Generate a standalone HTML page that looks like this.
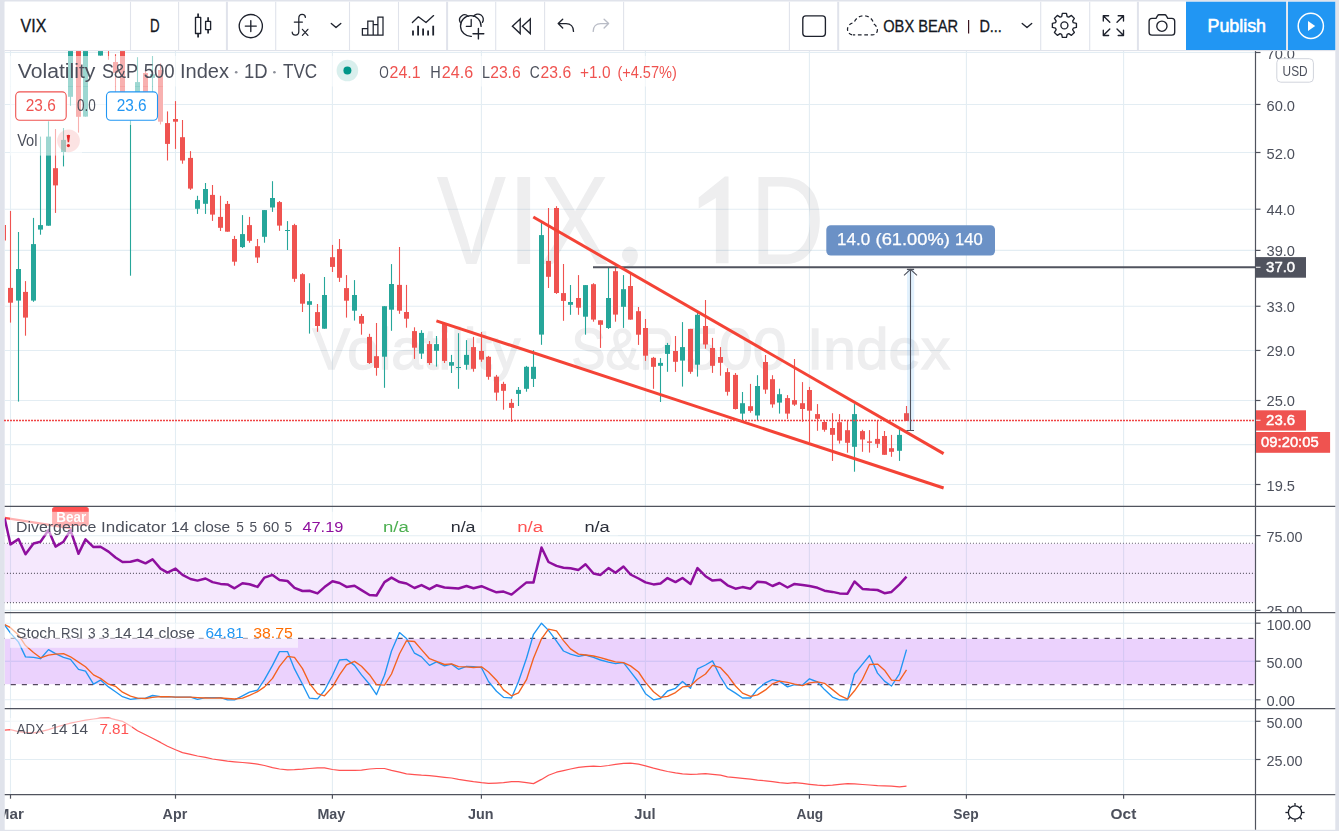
<!DOCTYPE html><html><head><meta charset="utf-8"><title>VIX</title><style>html,body{margin:0;padding:0;background:#fff;}svg{display:block;font-family:"Liberation Sans", sans-serif;}</style></head><body>
<svg width="1339" height="831" viewBox="0 0 1339 831">
<defs>
<clipPath id="cpMain"><rect x="4.7" y="51" width="1250.8" height="455.5"/></clipPath>
<clipPath id="cpMainAx"><rect x="1256" y="51" width="79.3" height="455.5"/></clipPath>
<clipPath id="cpRsi"><rect x="4.7" y="507" width="1250.8" height="105.5"/></clipPath>
<clipPath id="cpRsiAx"><rect x="1256" y="507" width="79.3" height="105.3"/></clipPath>
<clipPath id="cpSto"><rect x="4.7" y="613" width="1250.8" height="95.4"/></clipPath>
<clipPath id="cpAdx"><rect x="4.7" y="709" width="1250.8" height="85.5"/></clipPath>
<clipPath id="cpTime"><rect x="4.7" y="795" width="1250.8" height="35"/></clipPath>
<filter id="gray" x="0" y="0" width="1339" height="831" filterUnits="userSpaceOnUse" color-interpolation-filters="sRGB"><feOffset dx="0" dy="0"/></filter>
</defs>
<rect x="0" y="0" width="1339" height="831" fill="#e0e3eb"/>
<rect x="4.7" y="1.7" width="1330.6" height="828.1" fill="#ffffff"/>
<g filter="url(#gray)">
<g stroke="#e3edf3" stroke-width="1.1" fill="none">
<path d="M10.5 51V794.5"/>
<path d="M175.5 51V794.5"/>
<path d="M332.4 51V794.5"/>
<path d="M481.4 51V794.5"/>
<path d="M645.4 51V794.5"/>
<path d="M809.4 51V794.5"/>
<path d="M966.4 51V794.5"/>
<path d="M1123.6 51V794.5"/>
<path d="M4.7 52.5H1255.5"/>
<path d="M4.7 104.45H1255.5"/>
<path d="M4.7 152.5H1255.5"/>
<path d="M4.7 209.2H1255.5"/>
<path d="M4.7 250.4H1255.5"/>
<path d="M4.7 306.25H1255.5"/>
<path d="M4.7 350.45H1255.5"/>
<path d="M4.7 400.5H1255.5"/>
<path d="M4.7 444.6H1255.5"/>
<path d="M4.7 484.5H1255.5"/>
<path d="M4.7 535.6H1255.5"/>
<path d="M4.7 610.4H1255.5"/>
<path d="M4.7 623.2H1255.5"/>
<path d="M4.7 661.2H1255.5"/>
<path d="M4.7 699.8H1255.5"/>
<path d="M4.7 721.3H1255.5"/>
<path d="M4.7 759.5H1255.5"/>
</g>
<g clip-path="url(#cpMain)"><g opacity="0.097" fill="#50535e">
<text x="436.6" y="263.6" font-size="126" fill="#50535e" font-weight="normal" text-anchor="start" textLength="69.8" lengthAdjust="spacingAndGlyphs">V</text>
<text x="504.8" y="263.6" font-size="126" fill="#50535e" font-weight="normal" text-anchor="start" textLength="38.0" lengthAdjust="spacingAndGlyphs">I</text>
<text x="539.7" y="263.6" font-size="126" fill="#50535e" font-weight="normal" text-anchor="start" textLength="70.0" lengthAdjust="spacingAndGlyphs">X</text>
<text x="749.9" y="263.6" font-size="126" fill="#50535e" font-weight="normal" text-anchor="start" textLength="74.7" lengthAdjust="spacingAndGlyphs">D</text>
<path d="M629.3 246.4A8.6 8.6 0 0 1 637.9 255C637.9 262 633.5 267.6 625.6 270.2L623.9 267.2C627.6 265.6 629.6 263.8 630 263.5A8.6 8.6 0 0 1 629.3 246.4Z"/>
<path d="M724.9 176.6H728.5V263.3H715.9V197.9L698.7 208.6V197.4Z"/>
<text x="312.6" y="368.6" font-size="57.5" fill="#50535e" font-weight="normal" text-anchor="start" textLength="207.8" lengthAdjust="spacingAndGlyphs" stroke="#50535e" stroke-width="1.3">Volatility</text>
<text x="571.6" y="368.6" font-size="57.5" fill="#50535e" font-weight="normal" text-anchor="start" textLength="101.8" lengthAdjust="spacingAndGlyphs" stroke="#50535e" stroke-width="1.3">S&amp;P</text>
<text x="685.4" y="368.6" font-size="57.5" fill="#50535e" font-weight="normal" text-anchor="start" textLength="101.1" lengthAdjust="spacingAndGlyphs" stroke="#50535e" stroke-width="1.3">500</text>
<text x="807.1" y="368.6" font-size="57.5" fill="#50535e" font-weight="normal" text-anchor="start" textLength="143.3" lengthAdjust="spacingAndGlyphs" stroke="#50535e" stroke-width="1.3">Index</text>
</g></g>
<g clip-path="url(#cpMain)">
<rect x="4.7" y="225" width="1.3" height="15.5" fill="#ef5350"/>
<rect x="9.95" y="211.0" width="1.1" height="111.6" fill="#ef5350"/>
<rect x="8.0" y="287.9" width="5" height="14.8" fill="#ef5350"/>
<rect x="17.95" y="232.0" width="1.1" height="169.6" fill="#26a69a"/>
<rect x="16.0" y="269.0" width="5" height="31.6" fill="#26a69a"/>
<rect x="24.95" y="281.1" width="1.1" height="54.6" fill="#ef5350"/>
<rect x="23.0" y="291.9" width="5" height="25.7" fill="#ef5350"/>
<rect x="32.95" y="217.9" width="1.1" height="83.9" fill="#26a69a"/>
<rect x="31.0" y="244.1" width="5" height="56.5" fill="#26a69a"/>
<rect x="39.95" y="136.6" width="1.1" height="98.1" fill="#26a69a"/>
<rect x="38.0" y="225.1" width="5" height="4.5" fill="#26a69a"/>
<rect x="47.95" y="121.3" width="1.1" height="104.4" fill="#26a69a"/>
<rect x="46.0" y="136.6" width="5" height="89.1" fill="#26a69a"/>
<rect x="54.95" y="129.0" width="1.1" height="83.9" fill="#ef5350"/>
<rect x="53.0" y="168.2" width="5" height="17.2" fill="#ef5350"/>
<rect x="62.95" y="128.0" width="1.1" height="38.4" fill="#26a69a"/>
<rect x="61.0" y="139.9" width="5" height="12.1" fill="#26a69a"/>
<rect x="69.95" y="40.0" width="1.1" height="65.8" fill="#26a69a"/>
<rect x="68.0" y="40.0" width="5" height="56.8" fill="#26a69a"/>
<rect x="77.95" y="40.0" width="1.1" height="92.6" fill="#ef5350"/>
<rect x="76.0" y="40.0" width="5" height="76.8" fill="#ef5350"/>
<rect x="84.95" y="40.0" width="1.1" height="76.6" fill="#26a69a"/>
<rect x="83.0" y="40.0" width="5" height="76.6" fill="#26a69a"/>
<rect x="99.95" y="40.0" width="1.1" height="15.6" fill="#26a69a"/>
<rect x="98.0" y="40.0" width="5" height="15.6" fill="#26a69a"/>
<rect x="107.95" y="40.0" width="1.1" height="19.8" fill="#ef5350"/>
<rect x="106.0" y="40.0" width="5" height="5.0" fill="#ef5350"/>
<rect x="114.95" y="54.2" width="1.1" height="45.8" fill="#ef5350"/>
<rect x="113.0" y="62.0" width="5" height="10.9" fill="#ef5350"/>
<rect x="121.95" y="40.0" width="1.1" height="65.0" fill="#ef5350"/>
<rect x="120.0" y="40.0" width="5" height="56.0" fill="#ef5350"/>
<rect x="129.95" y="93.0" width="1.1" height="182.7" fill="#26a69a"/>
<rect x="128.0" y="95.7" width="5" height="20.8" fill="#26a69a"/>
<rect x="136.95" y="57.2" width="1.1" height="57.8" fill="#26a69a"/>
<rect x="135.0" y="82.1" width="5" height="14.9" fill="#26a69a"/>
<rect x="144.95" y="70.0" width="1.1" height="35.0" fill="#ef5350"/>
<rect x="143.0" y="73.0" width="5" height="26.0" fill="#ef5350"/>
<rect x="151.95" y="56.0" width="1.1" height="39.0" fill="#26a69a"/>
<rect x="150.0" y="74.2" width="5" height="3.7" fill="#26a69a"/>
<rect x="159.95" y="63.5" width="1.1" height="60.9" fill="#ef5350"/>
<rect x="158.0" y="70.0" width="5" height="51.7" fill="#ef5350"/>
<rect x="166.95" y="111.4" width="1.1" height="49.1" fill="#ef5350"/>
<rect x="165.0" y="123.1" width="5" height="20.8" fill="#ef5350"/>
<rect x="174.95" y="101.1" width="1.1" height="47.8" fill="#ef5350"/>
<rect x="173.0" y="119.0" width="5" height="2.7" fill="#ef5350"/>
<rect x="181.95" y="120.0" width="1.1" height="43.7" fill="#ef5350"/>
<rect x="180.0" y="137.2" width="5" height="23.3" fill="#ef5350"/>
<rect x="189.95" y="151.1" width="1.1" height="38.8" fill="#ef5350"/>
<rect x="188.0" y="157.9" width="5" height="30.7" fill="#ef5350"/>
<rect x="196.95" y="195.8" width="1.1" height="18.1" fill="#26a69a"/>
<rect x="195.0" y="200.1" width="5" height="8.7" fill="#26a69a"/>
<rect x="204.95" y="183.0" width="1.1" height="30.9" fill="#26a69a"/>
<rect x="203.0" y="189.0" width="5" height="14.8" fill="#26a69a"/>
<rect x="211.95" y="185.0" width="1.1" height="35.9" fill="#ef5350"/>
<rect x="210.0" y="194.9" width="5" height="19.7" fill="#ef5350"/>
<rect x="219.95" y="195.8" width="1.1" height="35.2" fill="#ef5350"/>
<rect x="218.0" y="216.9" width="5" height="10.9" fill="#ef5350"/>
<rect x="226.95" y="201.0" width="1.1" height="30.7" fill="#ef5350"/>
<rect x="225.0" y="203.9" width="5" height="27.8" fill="#ef5350"/>
<rect x="233.95" y="235.9" width="1.1" height="29.8" fill="#ef5350"/>
<rect x="232.0" y="239.0" width="5" height="22.7" fill="#ef5350"/>
<rect x="241.95" y="215.1" width="1.1" height="32.9" fill="#26a69a"/>
<rect x="240.0" y="234.1" width="5" height="13.0" fill="#26a69a"/>
<rect x="248.95" y="216.9" width="1.1" height="25.8" fill="#ef5350"/>
<rect x="247.0" y="225.1" width="5" height="15.7" fill="#ef5350"/>
<rect x="256.95" y="239.0" width="1.1" height="24.0" fill="#ef5350"/>
<rect x="255.0" y="246.2" width="5" height="11.3" fill="#ef5350"/>
<rect x="263.95" y="210.1" width="1.1" height="32.6" fill="#26a69a"/>
<rect x="262.0" y="210.1" width="5" height="26.7" fill="#26a69a"/>
<rect x="271.95" y="181.2" width="1.1" height="30.7" fill="#26a69a"/>
<rect x="270.0" y="198.0" width="5" height="9.5" fill="#26a69a"/>
<rect x="278.95" y="201.0" width="1.1" height="29.8" fill="#ef5350"/>
<rect x="277.0" y="202.1" width="5" height="23.5" fill="#ef5350"/>
<rect x="286.95" y="221.1" width="1.1" height="28.9" fill="#26a69a"/>
<rect x="285.0" y="230.0" width="5" height="1.0" fill="#26a69a"/>
<rect x="293.95" y="223.8" width="1.1" height="58.1" fill="#ef5350"/>
<rect x="292.0" y="225.1" width="5" height="53.7" fill="#ef5350"/>
<rect x="301.95" y="273.2" width="1.1" height="38.8" fill="#ef5350"/>
<rect x="300.0" y="274.2" width="5" height="29.5" fill="#ef5350"/>
<rect x="308.95" y="283.2" width="1.1" height="50.4" fill="#26a69a"/>
<rect x="307.0" y="301.2" width="5" height="3.6" fill="#26a69a"/>
<rect x="316.95" y="304.0" width="1.1" height="27.8" fill="#ef5350"/>
<rect x="315.0" y="312.1" width="5" height="13.9" fill="#ef5350"/>
<rect x="323.95" y="277.0" width="1.1" height="51.7" fill="#26a69a"/>
<rect x="322.0" y="295.0" width="5" height="33.7" fill="#26a69a"/>
<rect x="331.95" y="244.9" width="1.1" height="27.1" fill="#ef5350"/>
<rect x="330.0" y="257.2" width="5" height="9.7" fill="#ef5350"/>
<rect x="338.95" y="239.0" width="1.1" height="42.9" fill="#ef5350"/>
<rect x="337.0" y="249.1" width="5" height="28.7" fill="#ef5350"/>
<rect x="345.95" y="275.1" width="1.1" height="42.5" fill="#ef5350"/>
<rect x="344.0" y="288.1" width="5" height="12.6" fill="#ef5350"/>
<rect x="353.95" y="280.1" width="1.1" height="40.5" fill="#26a69a"/>
<rect x="352.0" y="295.0" width="5" height="15.7" fill="#26a69a"/>
<rect x="360.95" y="313.9" width="1.1" height="20.8" fill="#ef5350"/>
<rect x="359.0" y="316.0" width="5" height="7.7" fill="#ef5350"/>
<rect x="368.95" y="333.8" width="1.1" height="30.1" fill="#ef5350"/>
<rect x="367.0" y="336.9" width="5" height="26.1" fill="#ef5350"/>
<rect x="375.95" y="323.0" width="1.1" height="52.7" fill="#ef5350"/>
<rect x="374.0" y="356.2" width="5" height="11.7" fill="#ef5350"/>
<rect x="383.95" y="306.2" width="1.1" height="81.6" fill="#26a69a"/>
<rect x="382.0" y="306.2" width="5" height="50.5" fill="#26a69a"/>
<rect x="390.95" y="264.1" width="1.1" height="66.7" fill="#26a69a"/>
<rect x="389.0" y="284.0" width="5" height="25.7" fill="#26a69a"/>
<rect x="398.95" y="247.0" width="1.1" height="66.8" fill="#ef5350"/>
<rect x="397.0" y="284.9" width="5" height="25.8" fill="#ef5350"/>
<rect x="405.95" y="284.9" width="1.1" height="42.8" fill="#ef5350"/>
<rect x="404.0" y="312.0" width="5" height="6.7" fill="#ef5350"/>
<rect x="413.95" y="327.3" width="1.1" height="31.6" fill="#ef5350"/>
<rect x="412.0" y="331.1" width="5" height="16.6" fill="#ef5350"/>
<rect x="420.95" y="330.2" width="1.1" height="28.7" fill="#26a69a"/>
<rect x="419.0" y="332.9" width="5" height="20.7" fill="#26a69a"/>
<rect x="428.95" y="341.0" width="1.1" height="23.8" fill="#ef5350"/>
<rect x="427.0" y="344.1" width="5" height="18.9" fill="#ef5350"/>
<rect x="435.95" y="336.0" width="1.1" height="30.6" fill="#26a69a"/>
<rect x="434.0" y="344.1" width="5" height="6.7" fill="#26a69a"/>
<rect x="443.95" y="323.3" width="1.1" height="39.7" fill="#ef5350"/>
<rect x="442.0" y="323.3" width="5" height="37.6" fill="#ef5350"/>
<rect x="450.95" y="354.9" width="1.1" height="18.1" fill="#26a69a"/>
<rect x="449.0" y="362.1" width="5" height="3.6" fill="#26a69a"/>
<rect x="457.95" y="333.2" width="1.1" height="55.6" fill="#26a69a"/>
<rect x="456.0" y="367.0" width="5" height="1.0" fill="#26a69a"/>
<rect x="465.95" y="340.1" width="1.1" height="29.6" fill="#26a69a"/>
<rect x="464.0" y="354.9" width="5" height="9.9" fill="#26a69a"/>
<rect x="472.95" y="336.9" width="1.1" height="34.8" fill="#ef5350"/>
<rect x="471.0" y="347.1" width="5" height="21.7" fill="#ef5350"/>
<rect x="480.95" y="332.0" width="1.1" height="29.8" fill="#ef5350"/>
<rect x="479.0" y="351.0" width="5" height="8.6" fill="#ef5350"/>
<rect x="487.95" y="355.9" width="1.1" height="23.8" fill="#ef5350"/>
<rect x="486.0" y="356.8" width="5" height="20.0" fill="#ef5350"/>
<rect x="495.95" y="374.9" width="1.1" height="25.8" fill="#ef5350"/>
<rect x="494.0" y="376.7" width="5" height="15.9" fill="#ef5350"/>
<rect x="502.95" y="381.8" width="1.1" height="27.9" fill="#ef5350"/>
<rect x="501.0" y="383.9" width="5" height="6.9" fill="#ef5350"/>
<rect x="510.95" y="398.9" width="1.1" height="22.9" fill="#ef5350"/>
<rect x="509.0" y="402.9" width="5" height="5.0" fill="#ef5350"/>
<rect x="517.95" y="387.0" width="1.1" height="19.0" fill="#26a69a"/>
<rect x="516.0" y="389.9" width="5" height="4.0" fill="#26a69a"/>
<rect x="525.95" y="365.9" width="1.1" height="25.8" fill="#26a69a"/>
<rect x="524.0" y="366.8" width="5" height="22.0" fill="#26a69a"/>
<rect x="532.95" y="350.2" width="1.1" height="36.8" fill="#26a69a"/>
<rect x="531.0" y="366.8" width="5" height="12.1" fill="#26a69a"/>
<rect x="540.95" y="223.0" width="1.1" height="121.8" fill="#26a69a"/>
<rect x="539.0" y="235.1" width="5" height="99.5" fill="#26a69a"/>
<rect x="547.95" y="208.0" width="1.1" height="80.0" fill="#ef5350"/>
<rect x="546.0" y="260.9" width="5" height="15.9" fill="#ef5350"/>
<rect x="555.95" y="206.2" width="1.1" height="87.7" fill="#ef5350"/>
<rect x="554.0" y="208.0" width="5" height="85.0" fill="#ef5350"/>
<rect x="562.95" y="264.0" width="1.1" height="56.8" fill="#ef5350"/>
<rect x="561.0" y="293.1" width="5" height="7.8" fill="#ef5350"/>
<rect x="569.95" y="285.0" width="1.1" height="29.8" fill="#26a69a"/>
<rect x="568.0" y="302.0" width="5" height="2.8" fill="#26a69a"/>
<rect x="577.95" y="275.1" width="1.1" height="39.7" fill="#ef5350"/>
<rect x="576.0" y="298.0" width="5" height="9.7" fill="#ef5350"/>
<rect x="584.95" y="285.1" width="1.1" height="49.6" fill="#26a69a"/>
<rect x="583.0" y="285.1" width="5" height="31.6" fill="#26a69a"/>
<rect x="592.95" y="283.2" width="1.1" height="38.5" fill="#ef5350"/>
<rect x="591.0" y="284.2" width="5" height="35.4" fill="#ef5350"/>
<rect x="599.95" y="320.3" width="1.1" height="27.6" fill="#ef5350"/>
<rect x="598.0" y="320.3" width="5" height="4.5" fill="#ef5350"/>
<rect x="607.95" y="267.0" width="1.1" height="61.9" fill="#26a69a"/>
<rect x="606.0" y="298.0" width="5" height="30.0" fill="#26a69a"/>
<rect x="614.95" y="267.0" width="1.1" height="54.7" fill="#ef5350"/>
<rect x="613.0" y="271.2" width="5" height="43.4" fill="#ef5350"/>
<rect x="622.95" y="275.1" width="1.1" height="52.8" fill="#26a69a"/>
<rect x="621.0" y="289.2" width="5" height="17.6" fill="#26a69a"/>
<rect x="629.95" y="273.0" width="1.1" height="46.7" fill="#ef5350"/>
<rect x="628.0" y="286.0" width="5" height="33.6" fill="#ef5350"/>
<rect x="637.95" y="307.0" width="1.1" height="37.9" fill="#ef5350"/>
<rect x="636.0" y="311.2" width="5" height="23.5" fill="#ef5350"/>
<rect x="644.95" y="319.0" width="1.1" height="41.9" fill="#ef5350"/>
<rect x="643.0" y="328.0" width="5" height="27.7" fill="#ef5350"/>
<rect x="652.95" y="356.9" width="1.1" height="31.9" fill="#ef5350"/>
<rect x="651.0" y="357.8" width="5" height="9.0" fill="#ef5350"/>
<rect x="659.95" y="358.1" width="1.1" height="43.9" fill="#26a69a"/>
<rect x="658.0" y="362.9" width="5" height="2.9" fill="#26a69a"/>
<rect x="666.95" y="342.9" width="1.1" height="28.9" fill="#26a69a"/>
<rect x="665.0" y="345.0" width="5" height="8.9" fill="#26a69a"/>
<rect x="674.95" y="336.0" width="1.1" height="35.9" fill="#ef5350"/>
<rect x="673.0" y="351.0" width="5" height="10.8" fill="#ef5350"/>
<rect x="681.95" y="322.1" width="1.1" height="64.5" fill="#26a69a"/>
<rect x="680.0" y="347.1" width="5" height="13.5" fill="#26a69a"/>
<rect x="689.95" y="328.9" width="1.1" height="44.9" fill="#ef5350"/>
<rect x="688.0" y="328.9" width="5" height="42.9" fill="#ef5350"/>
<rect x="696.95" y="313.0" width="1.1" height="63.6" fill="#26a69a"/>
<rect x="695.0" y="314.8" width="5" height="49.9" fill="#26a69a"/>
<rect x="704.95" y="300.0" width="1.1" height="48.7" fill="#ef5350"/>
<rect x="703.0" y="326.0" width="5" height="18.5" fill="#ef5350"/>
<rect x="711.95" y="337.9" width="1.1" height="35.0" fill="#ef5350"/>
<rect x="710.0" y="348.0" width="5" height="17.8" fill="#ef5350"/>
<rect x="719.95" y="347.1" width="1.1" height="28.6" fill="#ef5350"/>
<rect x="718.0" y="357.0" width="5" height="5.8" fill="#ef5350"/>
<rect x="726.95" y="368.2" width="1.1" height="27.4" fill="#ef5350"/>
<rect x="725.0" y="372.1" width="5" height="19.7" fill="#ef5350"/>
<rect x="734.95" y="373.0" width="1.1" height="36.5" fill="#ef5350"/>
<rect x="733.0" y="374.9" width="5" height="34.1" fill="#ef5350"/>
<rect x="741.95" y="392.0" width="1.1" height="28.0" fill="#26a69a"/>
<rect x="740.0" y="403.2" width="5" height="10.4" fill="#26a69a"/>
<rect x="749.95" y="383.9" width="1.1" height="28.8" fill="#ef5350"/>
<rect x="748.0" y="406.2" width="5" height="4.7" fill="#ef5350"/>
<rect x="756.95" y="375.2" width="1.1" height="45.5" fill="#26a69a"/>
<rect x="755.0" y="386.0" width="5" height="29.5" fill="#26a69a"/>
<rect x="764.95" y="355.0" width="1.1" height="38.8" fill="#ef5350"/>
<rect x="763.0" y="362.0" width="5" height="27.6" fill="#ef5350"/>
<rect x="771.95" y="375.2" width="1.1" height="32.5" fill="#ef5350"/>
<rect x="770.0" y="379.2" width="5" height="25.2" fill="#ef5350"/>
<rect x="778.95" y="388.7" width="1.1" height="24.9" fill="#26a69a"/>
<rect x="777.0" y="394.2" width="5" height="8.4" fill="#26a69a"/>
<rect x="786.95" y="395.1" width="1.1" height="23.8" fill="#ef5350"/>
<rect x="785.0" y="398.1" width="5" height="15.5" fill="#ef5350"/>
<rect x="793.95" y="359.0" width="1.1" height="46.9" fill="#ef5350"/>
<rect x="792.0" y="400.1" width="5" height="4.5" fill="#ef5350"/>
<rect x="801.95" y="382.1" width="1.1" height="39.7" fill="#ef5350"/>
<rect x="800.0" y="403.2" width="5" height="5.8" fill="#ef5350"/>
<rect x="808.95" y="386.9" width="1.1" height="55.1" fill="#ef5350"/>
<rect x="807.0" y="390.0" width="5" height="20.7" fill="#ef5350"/>
<rect x="816.95" y="404.1" width="1.1" height="26.7" fill="#ef5350"/>
<rect x="815.0" y="414.1" width="5" height="4.7" fill="#ef5350"/>
<rect x="823.95" y="421.0" width="1.1" height="10.7" fill="#ef5350"/>
<rect x="822.0" y="422.0" width="5" height="7.8" fill="#ef5350"/>
<rect x="831.95" y="413.2" width="1.1" height="47.7" fill="#ef5350"/>
<rect x="830.0" y="428.0" width="5" height="6.8" fill="#ef5350"/>
<rect x="838.95" y="414.1" width="1.1" height="29.5" fill="#ef5350"/>
<rect x="837.0" y="422.2" width="5" height="18.4" fill="#ef5350"/>
<rect x="846.95" y="420.9" width="1.1" height="31.8" fill="#ef5350"/>
<rect x="845.0" y="430.2" width="5" height="12.6" fill="#ef5350"/>
<rect x="853.95" y="404.1" width="1.1" height="67.6" fill="#26a69a"/>
<rect x="852.0" y="414.1" width="5" height="32.7" fill="#26a69a"/>
<rect x="861.95" y="429.8" width="1.1" height="22.0" fill="#ef5350"/>
<rect x="860.0" y="431.1" width="5" height="8.4" fill="#ef5350"/>
<rect x="868.95" y="430.1" width="1.1" height="22.5" fill="#ef5350"/>
<rect x="867.0" y="441.4" width="5" height="1.4" fill="#ef5350"/>
<rect x="876.95" y="420.9" width="1.1" height="27.0" fill="#ef5350"/>
<rect x="875.0" y="438.9" width="5" height="4.9" fill="#ef5350"/>
<rect x="883.95" y="431.0" width="1.1" height="23.8" fill="#ef5350"/>
<rect x="882.0" y="436.0" width="5" height="18.8" fill="#ef5350"/>
<rect x="890.95" y="434.9" width="1.1" height="21.9" fill="#ef5350"/>
<rect x="889.0" y="448.2" width="5" height="3.6" fill="#ef5350"/>
<rect x="898.95" y="429.8" width="1.1" height="31.1" fill="#26a69a"/>
<rect x="897.0" y="434.9" width="5" height="15.9" fill="#26a69a"/>
<rect x="905.95" y="406.0" width="1.1" height="14.9" fill="#ef5350"/>
<rect x="904.0" y="413.2" width="5" height="7.7" fill="#ef5350"/>
</g>
<path d="M4 420.5H1255.5" stroke="#ef4444" stroke-width="1.3" stroke-dasharray="2 1" fill="none"/>
<g clip-path="url(#cpMain)">
<rect x="907" y="269" width="7.2" height="161.5" fill="#2196f3" fill-opacity="0.13"/>
<path d="M593 267.2H1255.5" stroke="#50535e" stroke-width="1.9" fill="none"/>
<path d="M533.3 217L943.6 453.6" stroke="#f44336" stroke-width="3" fill="none"/>
<path d="M436.4 320.8L943.6 488" stroke="#f44336" stroke-width="3" fill="none"/>
<path d="M910.5 430.5V269.6M904 275.3L910.5 269.3L917 275.3M906.5 430.5H914M906.9 269.4H914.1" stroke="#50535e" stroke-width="1.1" fill="none"/>
<rect x="826.3" y="225.2" width="168.7" height="30.4" rx="4.5" fill="#6b91c6"/>
<text x="837.1" y="245.3" font-size="15.7" fill="#ffffff" font-weight="normal" text-anchor="start" textLength="33.1" lengthAdjust="spacingAndGlyphs" stroke="#ffffff" stroke-width="0.25">14.0</text>
<text x="875.6" y="245.3" font-size="15.7" fill="#ffffff" font-weight="normal" text-anchor="start" textLength="74.2" lengthAdjust="spacingAndGlyphs" stroke="#ffffff" stroke-width="0.25">(61.00%)</text>
<text x="955.1" y="245.3" font-size="15.7" fill="#ffffff" font-weight="normal" text-anchor="start" textLength="27.7" lengthAdjust="spacingAndGlyphs" stroke="#ffffff" stroke-width="0.25">140</text>
</g>
<g>
<rect x="10" y="56" width="672" height="30.5" fill="#ffffff" fill-opacity="0.55"/>
<rect x="10" y="86.5" width="154" height="38.5" fill="#ffffff" fill-opacity="0.55"/>
<rect x="10" y="125" width="72" height="30.6" fill="#ffffff" fill-opacity="0.55"/>
<text x="17.8" y="78.2" font-size="20" fill="#4c505c" font-weight="normal" text-anchor="start" textLength="77.6" lengthAdjust="spacingAndGlyphs">Volatility</text>
<text x="102.0" y="78.2" font-size="20" fill="#4c505c" font-weight="normal" text-anchor="start" textLength="36.1" lengthAdjust="spacingAndGlyphs">S&amp;P</text>
<text x="143.7" y="78.2" font-size="20" fill="#4c505c" font-weight="normal" text-anchor="start" textLength="30.9" lengthAdjust="spacingAndGlyphs">500</text>
<text x="179.9" y="78.2" font-size="20" fill="#4c505c" font-weight="normal" text-anchor="start" textLength="49.1" lengthAdjust="spacingAndGlyphs">Index</text>
<text x="243.9" y="78.2" font-size="20" fill="#4c505c" font-weight="normal" text-anchor="start" textLength="23.6" lengthAdjust="spacingAndGlyphs">1D</text>
<text x="283.0" y="78.2" font-size="20" fill="#4c505c" font-weight="normal" text-anchor="start" textLength="34.2" lengthAdjust="spacingAndGlyphs">TVC</text>
<circle cx="236.2" cy="72.3" r="1.3" fill="#8a8d97"/><circle cx="274.4" cy="72.3" r="1.3" fill="#8a8d97"/>
<circle cx="347.4" cy="70.5" r="10.8" fill="#009688" fill-opacity="0.15"/><circle cx="347.4" cy="70.5" r="4" fill="#009688"/>
<text x="379.2" y="78.2" font-size="15.6" fill="#4c505c" font-weight="normal" text-anchor="start" textLength="9.5" lengthAdjust="spacingAndGlyphs">O</text>
<text x="389.6" y="78.2" font-size="15.6" fill="#ef5350" font-weight="normal" text-anchor="start" textLength="31" lengthAdjust="spacingAndGlyphs">24.1</text>
<text x="430.3" y="78.2" font-size="15.6" fill="#4c505c" font-weight="normal" text-anchor="start" textLength="10.5" lengthAdjust="spacingAndGlyphs">H</text>
<text x="441.8" y="78.2" font-size="15.6" fill="#ef5350" font-weight="normal" text-anchor="start" textLength="31.3" lengthAdjust="spacingAndGlyphs">24.6</text>
<text x="482" y="78.2" font-size="15.6" fill="#4c505c" font-weight="normal" text-anchor="start" textLength="8" lengthAdjust="spacingAndGlyphs">L</text>
<text x="490.2" y="78.2" font-size="15.6" fill="#ef5350" font-weight="normal" text-anchor="start" textLength="30.5" lengthAdjust="spacingAndGlyphs">23.6</text>
<text x="529.8" y="78.2" font-size="15.6" fill="#4c505c" font-weight="normal" text-anchor="start" textLength="10" lengthAdjust="spacingAndGlyphs">C</text>
<text x="540.6" y="78.2" font-size="15.6" fill="#ef5350" font-weight="normal" text-anchor="start" textLength="30.6" lengthAdjust="spacingAndGlyphs">23.6</text>
<text x="580" y="78.2" font-size="15.6" fill="#ef5350" font-weight="normal" text-anchor="start" textLength="30.5" lengthAdjust="spacingAndGlyphs">+1.0</text>
<text x="617.4" y="78.2" font-size="15.6" fill="#ef5350" font-weight="normal" text-anchor="start" textLength="59.4" lengthAdjust="spacingAndGlyphs">(+4.57%)</text>
<rect x="15.7" y="91.9" width="50.5" height="28.3" rx="4" fill="#ffffff" stroke="#ef5350" stroke-width="1.1"/>
<text x="25.8" y="110.9" font-size="15.6" fill="#ef5350" font-weight="normal" text-anchor="start" textLength="30" lengthAdjust="spacingAndGlyphs">23.6</text>
<text x="76.9" y="110.9" font-size="15.6" fill="#4c505c" font-weight="normal" text-anchor="start" textLength="18.8" lengthAdjust="spacingAndGlyphs">0.0</text>
<rect x="106.5" y="91.9" width="51" height="28.3" rx="4" fill="#ffffff" stroke="#2196f3" stroke-width="1.1"/>
<text x="116.7" y="110.9" font-size="15.6" fill="#2196f3" font-weight="normal" text-anchor="start" textLength="30" lengthAdjust="spacingAndGlyphs">23.6</text>
<text x="17.2" y="146" font-size="16.3" fill="#4c505c" font-weight="normal" text-anchor="start" textLength="20.3" lengthAdjust="spacingAndGlyphs">Vol</text>
<circle cx="68.5" cy="140.8" r="11.4" fill="#ef5350" fill-opacity="0.16"/>
<path d="M66.7 135.2Q68.4 134.2 70.1 135.2L69.1 142.2H67.7Z" fill="#e52828"/><circle cx="68.4" cy="145.6" r="1.6" fill="#e52828"/>
</g>
<g clip-path="url(#cpRsi)">
<rect x="4.7" y="543.8" width="1250.8" height="58.5" fill="#f5e8fd"/>
<path d="M10.5 543.6V602.8" stroke="#dcd8f2" stroke-width="1.1" fill="none"/>
<path d="M175.5 543.6V602.8" stroke="#dcd8f2" stroke-width="1.1" fill="none"/>
<path d="M332.4 543.6V602.8" stroke="#dcd8f2" stroke-width="1.1" fill="none"/>
<path d="M481.4 543.6V602.8" stroke="#dcd8f2" stroke-width="1.1" fill="none"/>
<path d="M645.4 543.6V602.8" stroke="#dcd8f2" stroke-width="1.1" fill="none"/>
<path d="M809.4 543.6V602.8" stroke="#dcd8f2" stroke-width="1.1" fill="none"/>
<path d="M966.4 543.6V602.8" stroke="#dcd8f2" stroke-width="1.1" fill="none"/>
<path d="M1123.6 543.6V602.8" stroke="#dcd8f2" stroke-width="1.1" fill="none"/>
<path d="M0.9 543.25H1255.5" stroke="#6e6878" stroke-width="1.15" stroke-dasharray="1.1 1.9" fill="none"/>
<path d="M0.9 573.4H1255.5" stroke="#6e6878" stroke-width="1.15" stroke-dasharray="1.1 1.9" fill="none"/>
<path d="M0.9 602.6H1255.5" stroke="#6e6878" stroke-width="1.15" stroke-dasharray="1.1 1.9" fill="none"/>
<rect x="52.1" y="507" width="36.7" height="19" rx="2.5" fill="#ff5252"/>
<text x="71.2" y="522" font-size="14" fill="#ffffff" font-weight="bold" text-anchor="middle" textLength="30" lengthAdjust="spacingAndGlyphs">Bear</text>
<path d="M4.7 517.9L71.7 528.3" stroke="#ff5252" stroke-width="2.2" fill="none"/>
<polyline fill="none" stroke="#8e0f9e" stroke-width="2.5" stroke-linejoin="round" points="4.7,518.4 10.5,544.4 18.5,539.1 25.5,554.3 33.5,543.5 40.5,541.7 48.5,530.1 55.5,546.6 63.5,541.7 70.5,530.1 78.5,553.8 85.5,539.4 93.5,547.1 100.5,546.8 108.5,551.6 115.5,557.5 122.5,562.0 130.5,561.8 137.5,560.0 145.5,563.3 152.5,559.3 160.5,568.6 167.5,572.6 175.5,568.6 182.5,574.9 190.5,579.0 197.5,580.6 205.5,578.5 212.5,582.1 220.5,583.9 227.5,584.4 234.5,588.3 242.5,583.3 249.5,584.2 257.5,586.9 264.5,577.6 272.5,574.9 279.5,579.9 287.5,581.0 294.5,587.8 302.5,591.0 309.5,590.7 317.5,593.4 324.5,587.1 332.5,581.2 339.5,583.0 346.5,586.9 354.5,585.7 361.5,590.1 369.5,595.0 376.5,595.5 384.5,582.1 391.5,577.6 399.5,582.1 406.5,583.5 414.5,588.0 421.5,585.1 429.5,589.2 436.5,585.3 444.5,587.5 451.5,588.0 458.5,588.5 466.5,586.0 473.5,588.3 481.5,586.2 488.5,589.2 496.5,592.3 503.5,591.6 511.5,594.6 518.5,588.9 526.5,582.4 533.5,582.4 541.5,547.5 548.5,562.0 556.5,565.9 563.5,567.7 570.5,568.3 578.5,569.9 585.5,564.2 593.5,573.5 600.5,574.9 608.5,568.1 615.5,572.8 623.5,566.5 630.5,574.5 638.5,578.5 645.5,582.4 653.5,584.4 660.5,583.5 667.5,578.1 675.5,582.1 682.5,578.0 690.5,583.9 697.5,568.1 705.5,576.2 712.5,580.6 720.5,579.7 727.5,585.3 735.5,588.7 742.5,587.1 750.5,588.7 757.5,581.7 765.5,582.4 772.5,586.0 779.5,583.0 787.5,587.5 794.5,583.9 802.5,585.1 809.5,586.0 817.5,587.8 824.5,590.7 832.5,591.9 839.5,593.4 847.5,593.7 854.5,581.5 862.5,588.9 869.5,589.6 877.5,590.0 884.5,593.2 891.5,591.9 899.5,584.4 906.5,576.7"/>
<rect x="10" y="511.8" width="608" height="23.7" fill="#ffffff" fill-opacity="0.55"/>
<text x="16.0" y="531.9" font-size="15.2" fill="#4c505c" font-weight="normal" text-anchor="start" textLength="80.4" lengthAdjust="spacingAndGlyphs">Divergence</text>
<text x="101.0" y="531.9" font-size="15.2" fill="#4c505c" font-weight="normal" text-anchor="start" textLength="65.2" lengthAdjust="spacingAndGlyphs">Indicator</text>
<text x="170.7" y="531.9" font-size="15.2" fill="#4c505c" font-weight="normal" text-anchor="start" textLength="18.3" lengthAdjust="spacingAndGlyphs">14</text>
<text x="194.0" y="531.9" font-size="15.2" fill="#4c505c" font-weight="normal" text-anchor="start" textLength="36.2" lengthAdjust="spacingAndGlyphs">close</text>
<text x="236.2" y="531.9" font-size="15.2" fill="#4c505c" font-weight="normal" text-anchor="start" textLength="7.6" lengthAdjust="spacingAndGlyphs">5</text>
<text x="249.6" y="531.9" font-size="15.2" fill="#4c505c" font-weight="normal" text-anchor="start" textLength="7.6" lengthAdjust="spacingAndGlyphs">5</text>
<text x="262.7" y="531.9" font-size="15.2" fill="#4c505c" font-weight="normal" text-anchor="start" textLength="16.6" lengthAdjust="spacingAndGlyphs">60</text>
<text x="284.6" y="531.9" font-size="15.2" fill="#4c505c" font-weight="normal" text-anchor="start" textLength="7.6" lengthAdjust="spacingAndGlyphs">5</text>
<text x="302.4" y="531.9" font-size="15.2" fill="#8e0f9e" font-weight="normal" text-anchor="start" textLength="41.0" lengthAdjust="spacingAndGlyphs">47.19</text>
<text x="383.0" y="531.9" font-size="15.2" fill="#4caf50" font-weight="normal" text-anchor="start" textLength="25.9" lengthAdjust="spacingAndGlyphs">n/a</text>
<text x="450.7" y="531.9" font-size="15.2" fill="#2a2e39" font-weight="normal" text-anchor="start" textLength="24.9" lengthAdjust="spacingAndGlyphs">n/a</text>
<text x="517.2" y="531.9" font-size="15.2" fill="#ff5252" font-weight="normal" text-anchor="start" textLength="26.0" lengthAdjust="spacingAndGlyphs">n/a</text>
<text x="584.4" y="531.9" font-size="15.2" fill="#2a2e39" font-weight="normal" text-anchor="start" textLength="25.4" lengthAdjust="spacingAndGlyphs">n/a</text>
</g>
<g clip-path="url(#cpSto)">
<rect x="4.7" y="638.8" width="1250.8" height="45.4" fill="#ebd2fd"/>
<path d="M4.7 661.2H1255.5" stroke="#cbc0f3" stroke-width="1.1" fill="none"/>
<path d="M10.5 638.8V684.7" stroke="#d5c8f4" stroke-width="1.1" fill="none"/>
<path d="M175.5 638.8V684.7" stroke="#d5c8f4" stroke-width="1.1" fill="none"/>
<path d="M332.4 638.8V684.7" stroke="#d5c8f4" stroke-width="1.1" fill="none"/>
<path d="M481.4 638.8V684.7" stroke="#d5c8f4" stroke-width="1.1" fill="none"/>
<path d="M645.4 638.8V684.7" stroke="#d5c8f4" stroke-width="1.1" fill="none"/>
<path d="M809.4 638.8V684.7" stroke="#d5c8f4" stroke-width="1.1" fill="none"/>
<path d="M966.4 638.8V684.7" stroke="#d5c8f4" stroke-width="1.1" fill="none"/>
<path d="M1123.6 638.8V684.7" stroke="#d5c8f4" stroke-width="1.1" fill="none"/>
<path d="M-0.3 638.4H1255.5" stroke="#54485f" stroke-width="1.15" stroke-dasharray="5.1 5.95" fill="none"/>
<path d="M-0.3 684.6H1255.5" stroke="#54485f" stroke-width="1.15" stroke-dasharray="5.1 5.95" fill="none"/>
<polyline fill="none" stroke="#2196f3" stroke-width="1.35" stroke-linejoin="round" points="4.7,625.0 10.5,633.1 18.5,642.1 25.5,656.9 33.5,657.3 40.5,658.7 48.5,649.6 55.5,653.7 63.5,657.3 70.5,659.4 78.5,669.3 85.5,671.1 93.5,684.2 100.5,680.1 108.5,686.9 115.5,691.7 122.5,696.7 130.5,699.4 137.5,698.5 145.5,698.2 152.5,695.5 160.5,696.7 167.5,696.7 175.5,697.1 182.5,697.1 190.5,697.1 197.5,699.4 205.5,697.6 212.5,697.6 220.5,697.6 227.5,699.8 234.5,699.8 242.5,695.8 249.5,692.2 257.5,690.1 264.5,679.7 272.5,665.4 279.5,651.6 287.5,651.6 294.5,668.9 302.5,684.2 309.5,698.2 317.5,698.9 324.5,690.5 332.5,675.2 339.5,660.0 346.5,659.4 354.5,665.4 361.5,674.9 369.5,684.2 376.5,694.6 384.5,675.2 391.5,651.0 399.5,632.6 406.5,638.5 414.5,653.2 421.5,656.9 429.5,665.4 436.5,661.8 444.5,665.9 451.5,664.1 458.5,669.3 466.5,666.3 473.5,666.6 481.5,667.7 488.5,681.5 496.5,691.3 503.5,697.3 511.5,698.0 518.5,681.5 526.5,658.2 533.5,634.3 541.5,623.2 548.5,630.4 556.5,641.2 563.5,651.0 570.5,654.2 578.5,656.4 585.5,655.0 593.5,657.3 600.5,660.0 608.5,662.1 615.5,663.6 623.5,662.7 630.5,671.6 638.5,682.0 645.5,693.7 653.5,699.8 660.5,698.5 667.5,691.0 675.5,688.3 682.5,681.5 690.5,688.3 697.5,668.9 705.5,665.0 712.5,660.9 720.5,677.0 727.5,688.1 735.5,693.1 742.5,698.0 750.5,698.0 757.5,689.2 765.5,682.9 772.5,679.7 779.5,681.1 787.5,686.9 794.5,684.7 802.5,685.1 809.5,678.8 817.5,682.0 824.5,689.6 832.5,697.1 839.5,699.8 847.5,699.8 854.5,674.0 862.5,664.1 869.5,655.5 877.5,673.1 884.5,681.1 891.5,686.0 899.5,673.8 906.5,649.6"/>
<polyline fill="none" stroke="#f4621f" stroke-width="1.35" stroke-linejoin="round" points="4.7,624.5 10.5,627.7 18.5,634.9 25.5,645.6 33.5,652.5 40.5,657.8 48.5,655.1 55.5,654.1 63.5,653.7 70.5,656.8 78.5,662.1 85.5,666.8 93.5,674.9 100.5,678.4 108.5,684.2 115.5,686.3 122.5,692.2 130.5,696.2 137.5,698.2 145.5,698.5 152.5,697.3 160.5,696.7 167.5,696.7 175.5,697.1 182.5,697.1 190.5,697.1 197.5,697.6 205.5,698.0 212.5,698.2 220.5,698.0 227.5,698.5 234.5,699.0 242.5,698.2 249.5,695.3 257.5,691.7 264.5,686.9 272.5,678.4 279.5,666.3 287.5,656.4 294.5,657.3 302.5,668.6 309.5,683.3 317.5,693.7 324.5,695.8 332.5,686.9 339.5,674.9 346.5,664.8 354.5,661.4 361.5,666.3 369.5,674.7 376.5,684.7 384.5,685.1 391.5,674.0 399.5,653.7 406.5,640.8 414.5,641.5 421.5,649.6 429.5,658.7 436.5,661.4 444.5,664.5 451.5,663.9 458.5,666.6 466.5,666.8 473.5,667.5 481.5,666.8 488.5,672.0 496.5,680.2 503.5,689.9 511.5,695.8 518.5,692.8 526.5,679.7 533.5,658.2 541.5,638.8 548.5,629.2 556.5,630.9 563.5,640.6 570.5,648.9 578.5,654.1 585.5,655.0 593.5,656.0 600.5,657.7 608.5,660.0 615.5,661.8 623.5,662.7 630.5,665.9 638.5,672.0 645.5,682.4 653.5,691.7 660.5,697.3 667.5,696.4 675.5,692.6 682.5,686.9 690.5,686.0 697.5,679.2 705.5,674.0 712.5,665.4 720.5,667.7 727.5,675.2 735.5,686.0 742.5,693.1 750.5,696.4 757.5,694.9 765.5,689.9 772.5,683.8 779.5,681.1 787.5,682.4 794.5,684.2 802.5,685.6 809.5,682.9 817.5,681.8 824.5,683.3 832.5,689.6 839.5,695.3 847.5,699.1 854.5,690.8 862.5,679.3 869.5,664.5 877.5,664.1 884.5,670.2 891.5,680.2 899.5,680.6 906.5,669.8"/>
<rect x="10" y="623.2" width="288" height="24.6" fill="#ffffff" fill-opacity="0.55"/>
<text x="16.0" y="637.6" font-size="15.2" fill="#4c505c" font-weight="normal" text-anchor="start" textLength="39.8" lengthAdjust="spacingAndGlyphs">Stoch</text>
<text x="61.0" y="637.6" font-size="15.2" fill="#4c505c" font-weight="normal" text-anchor="start" textLength="22.0" lengthAdjust="spacingAndGlyphs">RSI</text>
<text x="88.1" y="637.6" font-size="15.2" fill="#4c505c" font-weight="normal" text-anchor="start" textLength="7.6" lengthAdjust="spacingAndGlyphs">3</text>
<text x="101.8" y="637.6" font-size="15.2" fill="#4c505c" font-weight="normal" text-anchor="start" textLength="7.6" lengthAdjust="spacingAndGlyphs">3</text>
<text x="114.3" y="637.6" font-size="15.2" fill="#4c505c" font-weight="normal" text-anchor="start" textLength="17.5" lengthAdjust="spacingAndGlyphs">14</text>
<text x="136.3" y="637.6" font-size="15.2" fill="#4c505c" font-weight="normal" text-anchor="start" textLength="17.2" lengthAdjust="spacingAndGlyphs">14</text>
<text x="158.4" y="637.6" font-size="15.2" fill="#4c505c" font-weight="normal" text-anchor="start" textLength="36.6" lengthAdjust="spacingAndGlyphs">close</text>
<text x="205.4" y="637.6" font-size="15.2" fill="#2196f3" font-weight="normal" text-anchor="start" textLength="38.3" lengthAdjust="spacingAndGlyphs">64.81</text>
<text x="253.2" y="637.6" font-size="15.2" fill="#ff6d00" font-weight="normal" text-anchor="start" textLength="39.6" lengthAdjust="spacingAndGlyphs">38.75</text>
</g>
<g clip-path="url(#cpAdx)">
<polyline fill="none" stroke="#ff5252" stroke-width="1.2" stroke-linejoin="round" points="4.7,730.1 10.5,729.6 18.5,731.7 25.5,732.4 33.5,732.9 40.5,731.7 48.5,729.6 55.5,727.3 63.5,725.0 70.5,723.2 78.5,721.5 85.5,720.1 93.5,719.0 100.5,718.1 108.5,717.8 115.5,719.7 122.5,721.3 130.5,725.9 137.5,730.8 145.5,734.7 152.5,738.2 160.5,742.4 167.5,746.3 175.5,749.8 182.5,752.6 190.5,754.4 197.5,756.0 205.5,757.4 212.5,759.0 220.5,760.2 227.5,761.1 234.5,761.8 242.5,762.5 249.5,763.2 257.5,764.1 264.5,765.5 272.5,767.6 279.5,769.0 287.5,769.9 294.5,769.7 302.5,769.2 309.5,768.5 317.5,767.8 324.5,767.8 332.5,769.5 339.5,770.4 346.5,770.4 354.5,770.4 361.5,770.2 369.5,769.0 376.5,768.5 384.5,768.5 391.5,770.4 399.5,772.2 406.5,773.9 414.5,774.6 421.5,775.2 429.5,775.7 436.5,776.4 444.5,777.3 451.5,778.0 458.5,779.4 466.5,780.6 473.5,781.7 481.5,782.7 488.5,783.4 496.5,783.1 503.5,782.7 511.5,781.7 518.5,781.7 526.5,782.7 533.5,783.6 541.5,779.4 548.5,775.2 556.5,772.2 563.5,770.6 570.5,769.0 578.5,767.4 585.5,766.7 593.5,766.2 600.5,766.5 608.5,765.5 615.5,764.4 623.5,763.4 630.5,763.2 638.5,764.1 645.5,765.8 653.5,768.1 660.5,769.9 667.5,771.5 675.5,772.9 682.5,773.9 690.5,774.3 697.5,774.1 705.5,773.6 712.5,774.3 720.5,775.2 727.5,776.9 735.5,777.6 742.5,778.3 750.5,779.2 757.5,780.1 765.5,780.8 772.5,781.7 779.5,782.7 787.5,783.4 794.5,782.7 802.5,783.4 809.5,784.3 817.5,785.2 824.5,785.7 832.5,785.2 839.5,784.3 847.5,783.6 854.5,783.8 862.5,784.5 869.5,785.0 877.5,785.7 884.5,785.9 891.5,786.1 899.5,786.8 906.5,786.1"/>
<rect x="10" y="718" width="122" height="22" fill="#ffffff" fill-opacity="0.55"/>
<text x="16.8" y="734" font-size="15.2" fill="#4c505c" font-weight="normal" text-anchor="start" textLength="27.2" lengthAdjust="spacingAndGlyphs">ADX</text>
<text x="50.5" y="734" font-size="15.2" fill="#4c505c" font-weight="normal" text-anchor="start" textLength="17.1" lengthAdjust="spacingAndGlyphs">14</text>
<text x="70.9" y="734" font-size="15.2" fill="#4c505c" font-weight="normal" text-anchor="start" textLength="17.1" lengthAdjust="spacingAndGlyphs">14</text>
<text x="99.4" y="734" font-size="15.2" fill="#ff5252" font-weight="normal" text-anchor="start" textLength="29.7" lengthAdjust="spacingAndGlyphs">7.81</text>
</g>
<g stroke="#50535e" stroke-width="1.2" fill="none">
<path d="M4.7 506.45H1335.3"/>
<path d="M4.7 612.7H1335.3"/>
<path d="M4.7 708.7H1335.3"/>
<path d="M4.7 794.55H1335.3"/>
<path d="M1255.5 51V829.8"/>
<path d="M1255.5 52.5H1260.5"/>
<path d="M1255.5 104.45H1260.5"/>
<path d="M1255.5 152.5H1260.5"/>
<path d="M1255.5 209.2H1260.5"/>
<path d="M1255.5 250.4H1260.5"/>
<path d="M1255.5 306.25H1260.5"/>
<path d="M1255.5 350.45H1260.5"/>
<path d="M1255.5 400.5H1260.5"/>
<path d="M1255.5 484.5H1260.5"/>
<path d="M1255.5 535.6H1260.5"/>
<path d="M1255.5 610.4H1260.5"/>
<path d="M1255.5 623.2H1260.5"/>
<path d="M1255.5 661.2H1260.5"/>
<path d="M1255.5 699.8H1260.5"/>
<path d="M1255.5 721.3H1260.5"/>
<path d="M1255.5 759.5H1260.5"/>
<path d="M10.5 794.5V798.7"/>
<path d="M175.5 794.5V798.7"/>
<path d="M332.4 794.5V798.7"/>
<path d="M481.4 794.5V798.7"/>
<path d="M645.4 794.5V798.7"/>
<path d="M809.4 794.5V798.7"/>
<path d="M966.4 794.5V798.7"/>
<path d="M1123.6 794.5V798.7"/>
</g>
<g clip-path="url(#cpMainAx)">
<text x="1266.5" y="58.5" font-size="15.1" fill="#4c505c" font-weight="normal" text-anchor="start" textLength="28.5" lengthAdjust="spacingAndGlyphs">70.0</text>
<text x="1266.5" y="110.5" font-size="15.1" fill="#4c505c" font-weight="normal" text-anchor="start" textLength="28.5" lengthAdjust="spacingAndGlyphs">60.0</text>
<text x="1266.5" y="158.5" font-size="15.1" fill="#4c505c" font-weight="normal" text-anchor="start" textLength="28.5" lengthAdjust="spacingAndGlyphs">52.0</text>
<text x="1266.5" y="215.20000000000002" font-size="15.1" fill="#4c505c" font-weight="normal" text-anchor="start" textLength="28.5" lengthAdjust="spacingAndGlyphs">44.0</text>
<text x="1266.5" y="256.3" font-size="15.1" fill="#4c505c" font-weight="normal" text-anchor="start" textLength="28.5" lengthAdjust="spacingAndGlyphs">39.0</text>
<text x="1266.5" y="312.2" font-size="15.1" fill="#4c505c" font-weight="normal" text-anchor="start" textLength="28.5" lengthAdjust="spacingAndGlyphs">33.0</text>
<text x="1266.5" y="356.29999999999995" font-size="15.1" fill="#4c505c" font-weight="normal" text-anchor="start" textLength="28.5" lengthAdjust="spacingAndGlyphs">29.0</text>
<text x="1266.5" y="406.4" font-size="15.1" fill="#4c505c" font-weight="normal" text-anchor="start" textLength="28.5" lengthAdjust="spacingAndGlyphs">25.0</text>
<text x="1266.5" y="490.59999999999997" font-size="15.1" fill="#4c505c" font-weight="normal" text-anchor="start" textLength="28.5" lengthAdjust="spacingAndGlyphs">19.5</text>
<rect x="1276.8" y="58.7" width="36.6" height="23.5" rx="4" fill="#ffffff" stroke="#d1d4dc" stroke-width="1"/>
<text x="1282.6" y="75.6" font-size="14.2" fill="#4c505c" font-weight="normal" text-anchor="start" textLength="25" lengthAdjust="spacingAndGlyphs">USD</text>
<rect x="1255.5" y="257.1" width="50.5" height="20.6" fill="#50535e"/>
<text x="1266.1" y="272.2" font-size="15.4" fill="#ffffff" font-weight="normal" text-anchor="start" textLength="29" lengthAdjust="spacingAndGlyphs" stroke="#ffffff" stroke-width="0.5">37.0</text>
<path d="M1255.5 267.2H1260.5" stroke="#ffffff" stroke-width="1.1"/>
<rect x="1255.5" y="410.3" width="50.5" height="20.3" fill="#ef5350"/>
<text x="1266.1" y="425.2" font-size="15.4" fill="#ffffff" font-weight="normal" text-anchor="start" textLength="29" lengthAdjust="spacingAndGlyphs" stroke="#ffffff" stroke-width="0.5">23.6</text>
<path d="M1255.5 420.3H1260.5" stroke="#ffffff" stroke-width="1.1"/>
<rect x="1255.5" y="432" width="74.6" height="20.8" fill="#ef5350"/>
<text x="1261.1" y="446.9" font-size="15.4" fill="#ffffff" font-weight="normal" text-anchor="start" textLength="57.6" lengthAdjust="spacingAndGlyphs" stroke="#ffffff" stroke-width="0.5">09:20:05</text>
</g>
<g clip-path="url(#cpRsiAx)">
<text x="1266.5" y="542.1" font-size="15.1" fill="#4c505c" font-weight="normal" text-anchor="start" textLength="36" lengthAdjust="spacingAndGlyphs">75.00</text>
<text x="1266.5" y="616.4" font-size="15.1" fill="#4c505c" font-weight="normal" text-anchor="start" textLength="36" lengthAdjust="spacingAndGlyphs">25.00</text>
</g>
<text x="1266.5" y="629.9" font-size="15.1" fill="#4c505c" font-weight="normal" text-anchor="start" textLength="44.6" lengthAdjust="spacingAndGlyphs">100.00</text>
<text x="1266.5" y="667.9" font-size="15.1" fill="#4c505c" font-weight="normal" text-anchor="start" textLength="36" lengthAdjust="spacingAndGlyphs">50.00</text>
<text x="1266.5" y="705.9" font-size="15.1" fill="#4c505c" font-weight="normal" text-anchor="start" textLength="28.5" lengthAdjust="spacingAndGlyphs">0.00</text>
<text x="1266.5" y="727.9" font-size="15.1" fill="#4c505c" font-weight="normal" text-anchor="start" textLength="36" lengthAdjust="spacingAndGlyphs">50.00</text>
<text x="1266.5" y="765.9" font-size="15.1" fill="#4c505c" font-weight="normal" text-anchor="start" textLength="36" lengthAdjust="spacingAndGlyphs">25.00</text>
<g clip-path="url(#cpTime)">
<text x="-3.2" y="819" font-size="14.8" fill="#4c505c" font-weight="bold" text-anchor="start" textLength="27" lengthAdjust="spacingAndGlyphs">Mar</text>
<text x="162.6" y="819" font-size="14.8" fill="#4c505c" font-weight="bold" text-anchor="start" textLength="24.6" lengthAdjust="spacingAndGlyphs">Apr</text>
<text x="317.4" y="819" font-size="14.8" fill="#4c505c" font-weight="bold" text-anchor="start" textLength="27.8" lengthAdjust="spacingAndGlyphs">May</text>
<text x="468.0" y="819" font-size="14.8" fill="#4c505c" font-weight="bold" text-anchor="start" textLength="25.5" lengthAdjust="spacingAndGlyphs">Jun</text>
<text x="634.2" y="819" font-size="14.8" fill="#4c505c" font-weight="bold" text-anchor="start" textLength="21.3" lengthAdjust="spacingAndGlyphs">Jul</text>
<text x="796.6" y="819" font-size="14.8" fill="#4c505c" font-weight="bold" text-anchor="start" textLength="26.6" lengthAdjust="spacingAndGlyphs">Aug</text>
<text x="953.3" y="819" font-size="14.8" fill="#4c505c" font-weight="bold" text-anchor="start" textLength="25.3" lengthAdjust="spacingAndGlyphs">Sep</text>
<text x="1110.6" y="819" font-size="14.8" fill="#4c505c" font-weight="bold" text-anchor="start" textLength="25.7" lengthAdjust="spacingAndGlyphs">Oct</text>
</g>
<g stroke="#1e222d" stroke-width="1.3" fill="none"><circle cx="1295" cy="812.5" r="6.6"/>
<path d="M1301.8 812.5L1304.6 812.5"/>
<path d="M1299.8 817.3L1301.8 819.3"/>
<path d="M1295.0 819.3L1295.0 822.1"/>
<path d="M1290.2 817.3L1288.2 819.3"/>
<path d="M1288.2 812.5L1285.4 812.5"/>
<path d="M1290.2 807.7L1288.2 805.7"/>
<path d="M1295.0 805.7L1295.0 802.9"/>
<path d="M1299.8 807.7L1301.8 805.7"/>
</g>
</g>
<rect x="4.7" y="1.7" width="1330.6" height="48.3" fill="#ffffff"/>
<rect x="4.7" y="50" width="1330.6" height="1.1" fill="#e0e3eb"/>
<g stroke="#e0e3eb" fill="none">
<path d="M130.5 1.7V50" stroke-width="1.1"/>
<path d="M178.6 1.7V50" stroke-width="1.1"/>
<path d="M226.9 1.7V50" stroke-width="2"/>
<path d="M275.7 1.7V50" stroke-width="1.1"/>
<path d="M349.5 1.7V50" stroke-width="1.1"/>
<path d="M398.5 1.7V50" stroke-width="1.1"/>
<path d="M447.1 1.7V50" stroke-width="2"/>
<path d="M495.7 1.7V50" stroke-width="1.1"/>
<path d="M544.6 1.7V50" stroke-width="1.1"/>
<path d="M623.6 1.7V50" stroke-width="1.1"/>
<path d="M789.4 1.7V50" stroke-width="1.1"/>
<path d="M838.2 1.7V50" stroke-width="2"/>
<path d="M1040.7 1.7V50" stroke-width="1.1"/>
<path d="M1089.7 1.7V50" stroke-width="1.1"/>
<path d="M1137.9 1.7V50" stroke-width="2"/>
</g>
<text x="20.6" y="31.8" font-size="17.6" fill="#131722" font-weight="normal" text-anchor="start" textLength="25.8" lengthAdjust="spacingAndGlyphs" stroke="#131722" stroke-width="0.3">VIX</text>
<text x="150" y="31.8" font-size="17.6" fill="#131722" font-weight="normal" text-anchor="start" textLength="9.6" lengthAdjust="spacingAndGlyphs" stroke="#131722" stroke-width="0.3">D</text>
<g stroke="#1e222d" stroke-width="1.35" fill="none" stroke-linecap="round" stroke-linejoin="round">
<rect x="195.5" y="17.4" width="5.2" height="16.1"/><path d="M198.1 13.4V17.4M198.1 33.5V37.5" stroke-width="1.7" stroke-linecap="butt"/>
<rect x="205.6" y="21.4" width="5" height="8.2"/><path d="M208.1 17.2V21.4M208.1 29.6V33.6" stroke-width="1.7" stroke-linecap="butt"/>
<circle cx="250.8" cy="26.1" r="11.6"/><path d="M245.3 26.1H256.3M250.8 20.6V31.6"/>
<path d="M305.4 17.4C305.3 15.4 303.8 14.4 302.1 14.4C299.9 14.4 298.8 16 298.8 18.4V31.2C298.8 33.6 297.6 35 295.5 35C293.5 35 292.2 33.8 292.2 32M294.3 22H302.4M302.4 29.3L307.9 35.4M307.9 29.3L302.4 35.4" stroke-width="1.25"/>
<path d="M331.3 23.5L336 27.6L340.8 23.5"/>
<path d="M362.4 35V28.5H367.8V35M367.8 28.5V21H373.2V35M373.2 24.6H377.9M377.9 35V17.1H383V35H362.4" stroke-width="1.25" stroke-linecap="square" stroke-linejoin="miter"/>
<path d="M412.4 22.5L418.4 16.8L426 22.5L433.6 15.6" stroke-width="1.3"/><path d="M413 30.5V35.5M418.1 25.8V35.5M423.1 28.5V35.5M428.1 30.5V35.5M433.2 25.8V35.5" stroke-width="1.8" stroke-linecap="butt"/>
<path d="M471.4 36.3A10.3 10.3 0 1 1 481.1 26.4" stroke-width="1.3"/><path d="M460.3 22.4A5 5 0 0 1 468.2 16.4M473.6 16.4A5 5 0 0 1 482.4 22.4" stroke-width="1.3"/><path d="M471.2 19.4V26.3H466.3" stroke-width="1.3"/><path d="M473 33.7H483.8M478.4 28.5V38.9" stroke-width="1.4"/>
<path d="M520.2 18.9L512.4 26.2L520.2 33.6ZM530.3 18.9L522.4 26.2L530.3 33.6Z" stroke-linejoin="miter"/>
<path d="M562.7 19.2L558.2 23.6L562.7 28.1M558.4 23.6H566C570.6 23.6 573.5 26.6 573.5 31.4"/>
</g>
<g stroke="#b9bcc6" stroke-width="1.35" fill="none" stroke-linecap="round" stroke-linejoin="round"><path d="M604.1 19.2L608.6 23.6L604.1 28.1M608.4 23.6H600.7C596.1 23.6 593.2 26.6 593.2 31.4"/></g>
<g stroke="#1e222d" stroke-width="1.35" fill="none" stroke-linecap="round" stroke-linejoin="round">
<rect x="802.8" y="15.9" width="22.6" height="20.4" rx="3"/>
<path d="M853 34.9H872.3C875.2 34.9 877.4 32.8 877.4 30C877.4 27.4 875.8 25.2 873.6 23.9C873 19.4 869.2 15.7 863.6 15.7C859.2 15.7 855.6 18.4 854 22.6C850.2 23.3 847.5 25.9 847.5 29.3C847.5 32.6 850 34.9 853 34.9Z" stroke-dasharray="3.7 2.7" stroke-dashoffset="1.5" stroke-width="1.25" stroke-linecap="butt"/>
<path d="M1022.2 23.5L1027 27.6L1031.7 23.5"/>
</g>
<text x="883.2" y="31.8" font-size="16.6" fill="#131722" font-weight="normal" text-anchor="start" textLength="75" lengthAdjust="spacingAndGlyphs" stroke="#131722" stroke-width="0.3">OBX BEAR</text>
<path d="M968.6 20V33.4" stroke="#3a1420" stroke-width="1.2" fill="none"/>
<text x="979.4" y="31.8" font-size="16.6" fill="#131722" font-weight="normal" text-anchor="start" textLength="22.5" lengthAdjust="spacingAndGlyphs" stroke="#131722" stroke-width="0.3">D...</text>
<g stroke="#1e222d" stroke-width="1.35" fill="none" stroke-linejoin="round"><path d="M1073.28 22.65 L1076.42 23.34 L1076.42 27.46 L1073.28 28.15 L1072.63 29.74 L1074.36 32.44 L1071.44 35.36 L1068.74 33.63 L1067.15 34.28 L1066.46 37.42 L1062.34 37.42 L1061.65 34.28 L1060.06 33.63 L1057.36 35.36 L1054.44 32.44 L1056.17 29.74 L1055.52 28.15 L1052.38 27.46 L1052.38 23.34 L1055.52 22.65 L1056.17 21.06 L1054.44 18.36 L1057.36 15.44 L1060.06 17.17 L1061.65 16.52 L1062.34 13.38 L1066.46 13.38 L1067.15 16.52 L1068.74 17.17 L1071.44 15.44 L1074.36 18.36 L1072.63 21.06Z"/><circle cx="1064.4" cy="25.4" r="3.5"/></g>
<g stroke="#1e222d" stroke-width="1.35" fill="none" stroke-linecap="round" stroke-linejoin="round">
<path d="M1103.3 21V15.7H1108.6M1103.5 15.9L1109.8 22.2M1118.2 15.7H1123.5V21M1123.3 15.9L1117 22.2M1103.3 30.2V35.5H1108.6M1103.5 35.3L1109.8 29M1123.5 30.2V35.5H1118.2M1123.3 35.3L1117 29"/>
<path d="M1152 18.3H1156L1157.6 15.6C1157.9 15 1158.4 14.7 1159 14.7H1164.8C1165.4 14.7 1165.9 15 1166.2 15.6L1167.8 18.3H1171.8C1173.5 18.3 1174.7 19.5 1174.7 21.2V32.2C1174.7 33.9 1173.5 35.1 1171.8 35.1H1152C1150.3 35.1 1149.1 33.9 1149.1 32.2V21.2C1149.1 19.5 1150.3 18.3 1152 18.3Z"/><circle cx="1161.9" cy="26.2" r="5.1"/>
</g>
<rect x="1186" y="1.7" width="100.3" height="48.3" fill="#2196f3"/>
<rect x="1288" y="1.7" width="47.3" height="48.3" fill="#2196f3"/>
<rect x="1286.3" y="1.7" width="1.7" height="48.3" fill="#e7e9ee"/>
<text x="1207.5" y="32" font-size="17.6" fill="#ffffff" font-weight="normal" text-anchor="start" textLength="58.5" lengthAdjust="spacingAndGlyphs" stroke="#ffffff" stroke-width="0.55">Publish</text>
<circle cx="1310.8" cy="25.9" r="12.6" stroke="#ffffff" stroke-width="1.5" fill="none"/><path d="M1308 21L1315.2 25.9L1308 30.9Z" fill="#ffffff"/>
</svg></body></html>
